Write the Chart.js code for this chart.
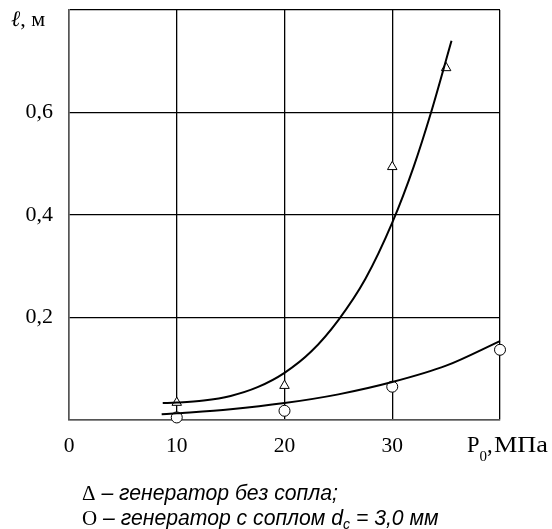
<!DOCTYPE html>
<html>
<head>
<meta charset="utf-8">
<script src="https://cdn.jsdelivr.net/npm/chart.js@4.4.1/dist/chart.umd.min.js"></script>
<style>
  html, body { margin: 0; padding: 0; background: #fff; }
  #wrap { position: relative; width: 552px; height: 529px; }
  #c { position: absolute; left: 0; top: 0; }
  #legend { position: absolute; left: 82px; top: 481px; font: italic 21.2px "Liberation Sans", Arial, sans-serif; line-height: 24px; color: #000; white-space: nowrap; }
  #legend .sym { font: normal 21px "Liberation Serif", "Times New Roman", serif; }
  #legend sub { font-size: 14px; vertical-align: -4px; line-height: 0; }
</style>
</head>
<body>
<div id="wrap">
  <canvas id="c" width="552" height="529"></canvas>
  <div id="legend">
    <div><span class="sym">Δ</span> – генератор без сопла;</div>
    <div><span class="sym">O</span> – генератор с соплом d<sub>c</sub> = 3,0 мм</div>
  </div>
</div>
<script>
// ---- data ----
const pressureNoNozzle = [10, 20, 30, 35];          // МПа, triangles
const lengthNoNozzle   = [0.034, 0.067, 0.494, 0.687];
const pressureNozzle   = [10, 20, 30, 40];          // МПа, circles
const lengthNozzle     = [0.005, 0.018, 0.065, 0.137];

const curveNoNozzleX = [8.7, 10, 12.5, 15, 17.5, 20, 22.5, 25, 27.5, 30, 32, 33.6, 35.5];
const curveNoNozzleY = [0.033, 0.034, 0.038, 0.047, 0.064, 0.092, 0.134, 0.195, 0.275, 0.385, 0.495, 0.6, 0.74];
const curveNozzleX = [8.6, 10, 15, 20, 25, 30, 35, 40];
const curveNozzleY = [0.011, 0.013, 0.021, 0.033, 0.05, 0.074, 0.106, 0.154];

const xTickValues = [0, 10, 20, 30];
const xTickLabels = ['0', '10', '20', '30'];
const yTickValues = [0.2, 0.4, 0.6];
const yTickLabels = ['0,2', '0,4', '0,6'];
const yAxisTitle = 'ℓ, м';
const xAxisTitleMain = 'P';
const xAxisTitleSub = '0';
const xAxisTitleRest = 'МПа';

const toXY = (xs, ys) => xs.map((x, i) => ({ x: x, y: ys[i] }));

const serif = '"Liberation Serif", "Times New Roman", serif';

const titlesPlugin = {
  id: 'titles',
  afterDraw(chart) {
    const ctx = chart.ctx;
    const xs = chart.scales.x, ys = chart.scales.y;
    ctx.save();
    ctx.fillStyle = '#000';
    ctx.textBaseline = 'alphabetic';
    // y title
    const yBase = ys.getPixelForValue(0.8) + 16;
    ctx.font = 'italic 22px ' + serif;
    ctx.textAlign = 'left';
    ctx.fillText('ℓ', 11, yBase);
    const wl = ctx.measureText('ℓ').width;
    ctx.font = '22px ' + serif;
    ctx.fillText(yAxisTitle.slice(1), 11 + wl, yBase);
    // x title at position of 40
    const xp = xs.getPixelForValue(40) - 33;
    const base = ys.getPixelForValue(0) + 32;
    ctx.font = '22.5px ' + serif;
    ctx.fillText(xAxisTitleMain, xp, base);
    let w = ctx.measureText(xAxisTitleMain).width;
    ctx.font = '15px ' + serif;
    ctx.fillText(xAxisTitleSub, xp + w, base + 9);
    w += ctx.measureText(xAxisTitleSub).width;
    ctx.font = '22.5px ' + serif;
    ctx.fillText(',', xp + w, base);
    const x2 = xp + 27;
    const wr = ctx.measureText(xAxisTitleRest).width;
    ctx.translate(x2, base);
    ctx.scale(54 / wr, 1);
    ctx.fillText(xAxisTitleRest, 0, 0);
    ctx.restore();
  }
};

new Chart(document.getElementById('c'), {
  type: 'line',
  data: {
    datasets: [
      {
        data: toXY(curveNoNozzleX, curveNoNozzleY),
        borderColor: '#000', borderWidth: 2, pointRadius: 0,
        cubicInterpolationMode: 'monotone', fill: false, clip: false
      },
      {
        data: toXY(curveNozzleX, curveNozzleY),
        borderColor: '#000', borderWidth: 2, pointRadius: 0,
        cubicInterpolationMode: 'monotone', fill: false, clip: false
      },
      {
        data: toXY(pressureNoNozzle, lengthNoNozzle),
        showLine: false, pointStyle: 'triangle', pointRadius: 5.5, clip: false,
        pointBackgroundColor: '#fff', pointBorderColor: '#000', pointBorderWidth: 1
      },
      {
        data: toXY(pressureNozzle, lengthNozzle),
        showLine: false, pointStyle: 'circle', pointRadius: 5.5, clip: false,
        pointBackgroundColor: '#fff', pointBorderColor: '#000', pointBorderWidth: 1
      }
    ]
  },
  options: {
    responsive: false,
    animation: false,
    devicePixelRatio: 1,
    layout: { padding: { left: 0, top: 10, right: 52, bottom: 0 } },
    plugins: { legend: { display: false }, tooltip: { enabled: false } },
    scales: {
      x: {
        type: 'linear', min: 0, max: 40,
        afterFit(s) { s.height = 109; s.paddingLeft = 0; s.paddingRight = 0; },
        afterBuildTicks(s) { s.ticks = [0, 10, 20, 30, 40].map(v => ({ value: v })); },
        ticks: {
          color: '#000', padding: 13, maxRotation: 0, autoSkip: false,
          font: { family: serif, size: 21.5 },
          callback(v) { const i = xTickValues.indexOf(v); return i >= 0 ? xTickLabels[i] : ''; }
        },
        grid: { color: '#000', lineWidth: 1.3, drawTicks: false },
        border: { color: '#555', width: 1.5 }
      },
      y: {
        type: 'linear', min: 0, max: 0.8,
        afterFit(s) { s.width = 69; s.paddingTop = 0; s.paddingBottom = 0; },
        afterBuildTicks(s) { s.ticks = [0, 0.2, 0.4, 0.6, 0.8].map(v => ({ value: v })); },
        ticks: {
          color: '#000', padding: 16, autoSkip: false,
          font: { family: serif, size: 22 },
          callback(v) {
            const i = yTickValues.findIndex(t => Math.abs(t - v) < 1e-9);
            return i >= 0 ? yTickLabels[i] : '';
          }
        },
        grid: { color: '#000', lineWidth: 1.3, drawTicks: false },
        border: { color: '#555', width: 1.5 }
      }
    }
  },
  plugins: [titlesPlugin]
});
</script>
</body>
</html>
